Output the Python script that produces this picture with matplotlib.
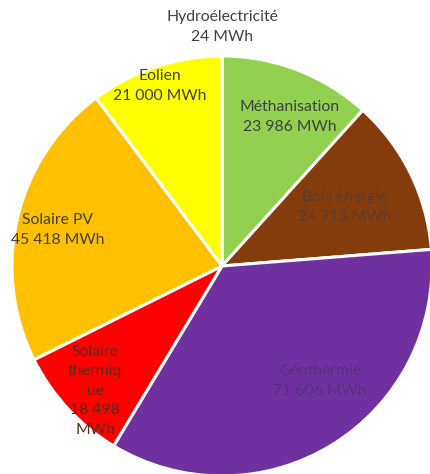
import matplotlib
matplotlib.use("Agg")
import matplotlib.pyplot as plt

# Production by renewable source (MWh), clockwise from the top
sources = ["Hydroélectricité", "Méthanisation", "Bois énergie", "Géothermie",
           "Solaire thermique", "Solaire PV", "Eolien"]
production_mwh = [24, 23986, 24713, 71606, 18498, 45418, 21000]
colors = ["#5B9BD5", "#92D050", "#843C0C", "#7030A0", "#FF0000", "#FFC000", "#FFFF00"]

# Label text shown for each source (line breaks as in the chart)
label_names = ["Hydroélectricité", "Méthanisation", "Bois énergie", "Géothermie",
               "Solaire\nthermiq\nue", "Solaire PV", "Eolien"]


def fmt(v):
    return f"{v:,}".replace(",", " ") + " MWh"


W, H = 430, 474
fig = plt.figure(figsize=(W / 100, H / 100), dpi=100)
ax = fig.add_axes([0, 0, 1, 1])

cx, cy, r = 222, H - 266, 210
ax.pie(production_mwh, colors=colors, startangle=90, counterclock=False,
       center=(cx, cy), radius=r, frame=True,
       wedgeprops=dict(edgecolor="white", linewidth=2.2))
ax.set_xlim(0, W)
ax.set_ylim(0, H)
ax.set_aspect("equal")
ax.axis("off")

# label anchors in pixel coordinates (x, y from top) and text colours
label_style = {
    "Hydroélectricité": ((222, 27), "#404040"),
    "Méthanisation": ((290, 117), "#404040"),
    "Bois énergie": ((345, 207), "#5e3a2a"),
    "Géothermie": ((320, 381), "#55307a"),
    "Solaire thermique": ((95, 391), "#5a2a1a"),
    "Solaire PV": ((58, 230), "#404040"),
    "Eolien": ((160, 86), "#404040"),
}
for name, disp, v in zip(sources, label_names, production_mwh):
    (x, y), tc = label_style[name]
    if name == "Solaire thermique":
        txt = disp + "\n" + f"{v:,}".replace(",", " ") + "\nMWh"
    else:
        txt = disp + "\n" + fmt(v)
    ax.text(x, H - y, txt, ha="center", va="center", fontsize=11.3,
            family="Lato", color=tc, linespacing=1.5)

fig.savefig("out.png", dpi=100)
